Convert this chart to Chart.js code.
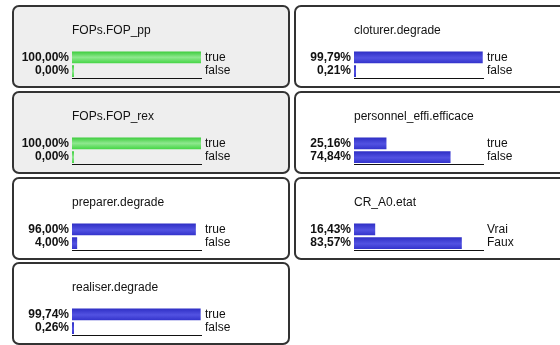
<!DOCTYPE html>
<html>
<head>
<meta charset="utf-8">
<script src="https://cdn.jsdelivr.net/npm/chart.js@4.4.1/dist/chart.umd.min.js"></script>
<style>
  body {
    margin: 0;
    width: 560px;
    height: 345px;
    overflow: hidden;
    position: relative;
    background: #fff;
    font-family: "Liberation Sans", Arial, sans-serif;
  }
  .node {
    position: absolute;
    box-sizing: border-box;
    width: 278px;
    height: 83px;
    border: 2px solid #333;
    border-radius: 7px;
    background: #fff;
  }
  .node.observed { background: #eeeeee; }
  .node canvas { position: absolute; left: -2px; top: 13px; }
</style>
</head>
<body>
<script>
// node names, their states and the belief (in %) for each state
const titles = ['FOPs.FOP_pp', 'cloturer.degrade', 'FOPs.FOP_rex', 'personnel_effi.efficace',
                'preparer.degrade', 'CR_A0.etat', 'realiser.degrade'];
const states = [['true', 'false'], ['true', 'false'], ['true', 'false'], ['true', 'false'],
                ['true', 'false'], ['Vrai', 'Faux'], ['true', 'false']];
const beliefs = [[100, 0], [99.79, 0.21], [100, 0], [25.16, 74.84],
                 [96, 4], [16.43, 83.57], [99.74, 0.26]];
// nodes set as evidence are drawn grey with green bars
const observed = [true, false, true, false, false, false, false];

const FONT = '"Liberation Sans", Arial, sans-serif';
const colLeft = [12, 294];
const rowTop = [5, 91, 177, 262];

function fmtPct(v) {
    return v.toFixed(2).replace('.', ',') + '%';
}

// fixed width for the label columns, and no extra room reserved for half labels
function fixAxis(width) {
    return s => {
        s.width = width;
        s.paddingTop = 0;
        s.paddingBottom = 0;
    };
}

function barFill(c, green) {
    const flat = green ? '#4cd84c' : '#3838d0';
    const chart = c.chart;
    if (c.type !== 'data' || !chart.chartArea) return flat;
    const y = chart.scales.y;
    const mid = y.getPixelForValue(c.dataIndex);
    const half = (y.height / y.ticks.length) * 0.85 / 2;
    const g = chart.ctx.createLinearGradient(0, mid - half, 0, mid + half);
    if (green) {
        g.addColorStop(0, '#3ccc3c');
        g.addColorStop(0.5, '#8ee88e');
        g.addColorStop(1, '#46d646');
    } else {
        g.addColorStop(0, '#2e2ec4');
        g.addColorStop(0.55, '#5252e2');
        g.addColorStop(1, '#3434cc');
    }
    return g;
}

titles.forEach((name, i) => {
    const box = document.createElement('div');
    box.className = 'node' + (observed[i] ? ' observed' : '');
    box.style.left = colLeft[i % 2] + 'px';
    box.style.top = rowTop[Math.floor(i / 2)] + 'px';
    const canvas = document.createElement('canvas');
    canvas.width = 278;
    canvas.height = 66;
    box.appendChild(canvas);
    document.body.appendChild(box);

    new Chart(canvas, {
        type: 'bar',
        data: {
            labels: states[i],
            datasets: [{
                data: beliefs[i],
                backgroundColor: c => barFill(c, observed[i]),
                barPercentage: 0.85,
                categoryPercentage: 1,
                minBarLength: 2
            }]
        },
        options: {
            indexAxis: 'y',
            responsive: false,
            animation: false,
            layout: { padding: { bottom: 8 } },
            plugins: {
                legend: { display: false },
                tooltip: { enabled: false },
                title: {
                    display: true,
                    text: name,
                    align: 'start',
                    fullSize: false,
                    color: '#111',
                    font: { size: 12, weight: 'normal', family: FONT },
                    padding: { top: 3, bottom: 13 }
                }
            },
            scales: {
                x: {
                    min: 0,
                    max: 100,
                    ticks: { display: false },
                    grid: { display: false, drawTicks: false },
                    border: { display: true, color: '#111', width: 1 }
                },
                y: {
                    position: 'left',
                    grid: { display: false, drawTicks: false },
                    border: { display: false },
                    ticks: {
                        autoSkip: false,
                        padding: 3,
                        color: '#111',
                        font: { size: 12, weight: 'bold', family: FONT },
                        callback: (v, k) => fmtPct(beliefs[i][k])
                    },
                    afterFit: fixAxis(60)
                },
                y2: {
                    type: 'category',
                    labels: states[i],
                    position: 'right',
                    offset: true,
                    grid: { display: false, drawTicks: false },
                    border: { display: false },
                    ticks: {
                        autoSkip: false,
                        padding: 4,
                        color: '#111',
                        font: { size: 12, family: FONT }
                    },
                    afterFit: fixAxis(89)
                }
            }
        }
    });
});
</script>
</body>
</html>
